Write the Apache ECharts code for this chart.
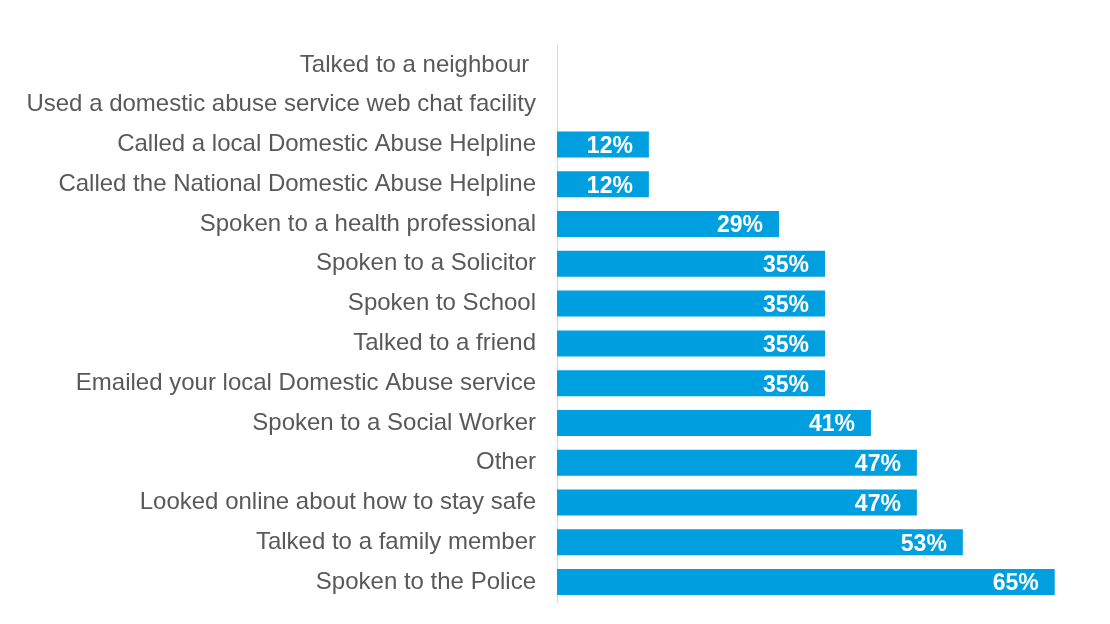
<!DOCTYPE html>
<html>
<head>
<meta charset="utf-8">
<script src="https://cdn.jsdelivr.net/npm/echarts@6/dist/echarts.min.js"></script>
<style>
  html, body { margin: 0; padding: 0; background: #ffffff; }
  #chart { width: 1110px; height: 624px; }
</style>
</head>
<body>
<div id="chart"></div>
<script>
// Actions taken, listed top to bottom
const categories = [
  'Talked to a neighbour ',
  'Used a domestic abuse service web chat facility',
  'Called a local Domestic Abuse Helpline',
  'Called the National Domestic Abuse Helpline',
  'Spoken to a health professional',
  'Spoken to a Solicitor',
  'Spoken to School',
  'Talked to a friend',
  'Emailed your local Domestic Abuse service',
  'Spoken to a Social Worker',
  'Other',
  'Looked online about how to stay safe',
  'Talked to a family member',
  'Spoken to the Police'
];

// Share of respondents (%)
const percentages = [0, 0, 12, 12, 29, 35, 35, 35, 35, 41, 47, 47, 53, 65];

const chart = echarts.init(document.getElementById('chart'), null, { renderer: 'canvas' });

chart.setOption({
  animation: false,
  backgroundColor: '#ffffff',
  grid: { left: 557, right: 17, top: 45, bottom: 22, containLabel: false },
  xAxis: {
    type: 'value',
    min: 0,
    max: 70,
    show: false
  },
  yAxis: {
    type: 'category',
    data: categories,
    inverse: true,
    axisLine: { show: true, lineStyle: { color: '#d9d9d9', width: 1 } },
    axisTick: { show: false },
    axisLabel: {
      margin: 21,
      fontSize: 24,
      color: '#595959',
      padding: [3, 0, 0, 0],
      fontFamily: '"Liberation Sans", Arial, sans-serif'
    }
  },
  series: [{
    type: 'bar',
    data: percentages,
    barWidth: 26,
    itemStyle: { color: '#009fdf' },
    label: {
      show: true,
      position: 'insideRight',
      distance: 16,
      offset: [0, 2],
      color: '#ffffff',
      fontSize: 23,
      fontWeight: 'bold',
      fontFamily: '"Liberation Sans", Arial, sans-serif',
      formatter: p => (p.value > 0 ? p.value + '%' : '')
    }
  }]
});
</script>
</body>
</html>
